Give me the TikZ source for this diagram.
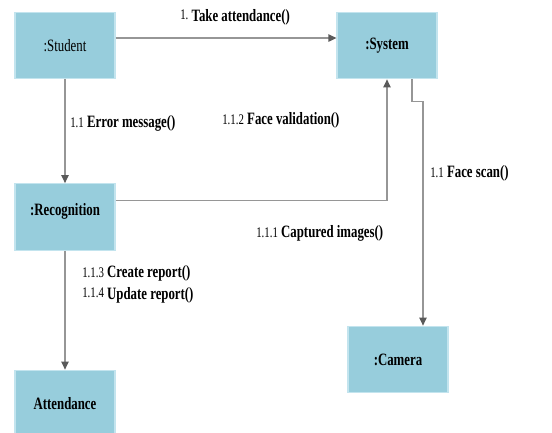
\documentclass[tikz,border=0pt]{standalone}
\usepackage{fontspec}
\setmainfont{Liberation Serif}[FakeStretch=0.74]
\usepackage{tikz}
\usetikzlibrary{arrows.meta,positioning}
\definecolor{obj}{RGB}{151, 205, 220}
\definecolor{objline}{RGB}{195, 228, 238}
\definecolor{wire}{RGB}{150, 150, 150}
\definecolor{tip}{RGB}{90, 90, 90}
\newcommand{\msgnum}[1]{{\fontsize{11}{13}\selectfont #1}}

\begin{document}
\begin{tikzpicture}[x=0.75pt, y=-0.75pt,
	% objetos do diagrama
	objbox/.style={draw=objline, fill=obj, line width=0.8pt,
		minimum width=75pt, minimum height=50pt, font=\fontsize{13}{15}\selectfont},
	% mensagens
	msg/.style={draw=wire, line width=0.9pt,
		-{Triangle[width=5.5pt, length=6pt, fill=tip, color=tip]}},
	msglabel/.style={anchor=west, inner sep=0pt, font=\fontsize{13}{15}\selectfont}]
\clip (0,0) rectangle (552,432);
\useasboundingbox (0,0) rectangle (552,432);

% objetos
\node[objbox] (student) at (65,45.5) {:Student};
\node[objbox] (system) at (387,45.5) {\textbf{:System}};
\node[objbox, text depth=11pt] (recog) at (65,217) {\textbf{:Recognition}};
\node[objbox] (attend) at (65,403.5) {\textbf{Attendance}};
\node[objbox] (camera) at (398,359.5) {\textbf{:Camera}};

% mensagens
\draw[msg] ([yshift=5.6pt]student.east) -- ([yshift=5.6pt]system.west);
\draw[msg] (student.south) -- (recog.north);
\draw[msg] ([yshift=12.5pt]recog.east) -| (system.south);
\draw[msg] ([xshift=18.75pt]system.south) -- ++(0,22) -| ([xshift=18.75pt]camera.north);
\draw[msg] (recog.south) -- (attend.north);

% rotulos
\node[msglabel] (take) at (180,17) {\msgnum{\raisebox{1.5pt}{1.}}\ \textbf{Take attendance()}};
\node[msglabel] (error) at (70,123) {\msgnum{1.1} \textbf{Error message()}};
\node[msglabel] (valid) at (222,120) {\msgnum{1.1.2}\ \textbf{Face validation()}};
\node[msglabel] (scan) at (430,173) {\msgnum{1.1}\ \textbf{Face scan()}};
\node[msglabel] (capt) at (256,233) {\msgnum{1.1.1} \textbf{Captured images()}};
\node[msglabel] (create) at (82,273) {\msgnum{1.1.3} \textbf{Create report()}};
\node[msglabel] (update) at (82,295) {\msgnum{\raisebox{1.5pt}{1.1.4}} \textbf{Update report()}};
\end{tikzpicture}
\end{document}
